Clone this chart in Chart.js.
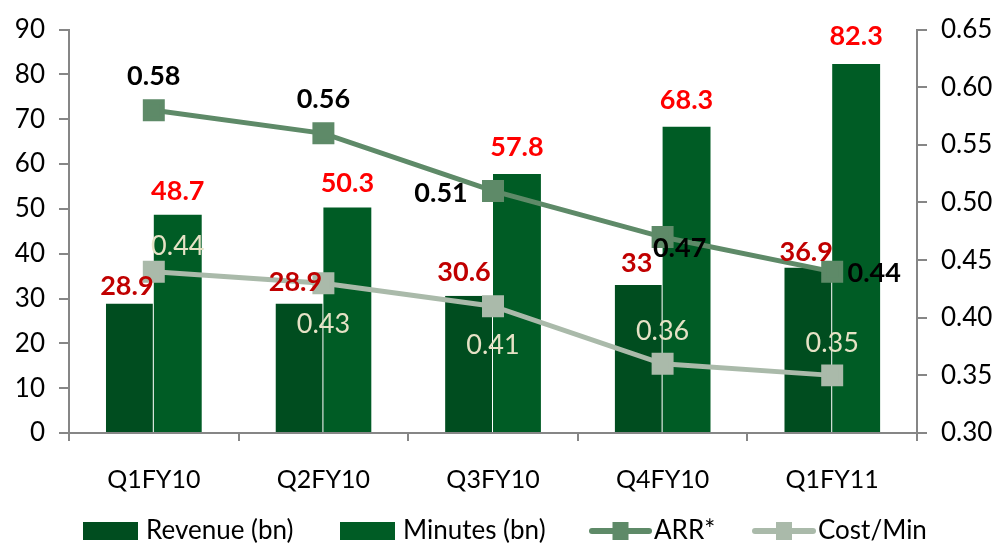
<!DOCTYPE html>
<html><head><meta charset="utf-8">
<script src="https://cdn.jsdelivr.net/npm/chart.js@4.4.0/dist/chart.umd.min.js"></script>
<style>html,body{margin:0;padding:0;background:#fff}#wrap{width:998px;height:543px}</style>
</head><body><div id="wrap"><canvas id="c" width="998" height="543"></canvas></div>
<script>
const categories = ['Q1FY10','Q2FY10','Q3FY10','Q4FY10','Q1FY11'];
const revenue = [28.9, 28.9, 30.6, 33, 36.9];
const minutes = [48.7, 50.3, 57.8, 68.3, 82.3];
const arr = [0.58, 0.56, 0.51, 0.47, 0.44];
const costPerMin = [0.44, 0.43, 0.41, 0.36, 0.35];
const leftTicks = [0,10,20,30,40,50,60,70,80,90];
const rightTicks = [0.30,0.35,0.40,0.45,0.50,0.55,0.60,0.65];

// label placement offsets (dx, dy) relative to the element anchor
const revOff = [[-3,-17],[-4,-21],[-5,-24],[-2,-22],[-2,-15]];
const minOff = [[0,-23],[0,-24],[0,-27],[0,-27],[0,-28]];
const arrOff = [[0,-34],[0,-34],[-52,2],[17,11],[42,2]];
const costOff = [[24,-25],[0,41],[0,39],[0,-33],[0,-32]];

const FONT = 'Lato, "Open Sans", sans-serif';
const C_REV = '#004D1F', C_MIN = '#005C25', C_ARR = '#5E8A68', C_COST = '#AABAAA';

const labelPlugin = {
  id: 'labels',
  afterDatasetsDraw(chart) {
    const ctx = chart.ctx;
    ctx.save();
    ctx.textAlign = 'center';
    ctx.textBaseline = 'middle';
    const specs = [
      {i:0, data: revenue, off: revOff, font: 'bold 27px ' + FONT, color: '#C00000', fmt: v => String(v)},
      {i:1, data: minutes, off: minOff, font: 'bold 27px ' + FONT, color: '#FF0000', fmt: v => String(v)},
      {i:2, data: arr, off: arrOff, font: 'bold 27px ' + FONT, color: '#000000', fmt: v => v.toFixed(2)},
      {i:3, data: costPerMin, off: costOff, font: '27px ' + FONT, color: '#E6E2C6', fmt: v => v.toFixed(2)}
    ];
    specs.forEach(s => {
      const meta = chart.getDatasetMeta(s.i);
      ctx.font = s.font;
      ctx.fillStyle = s.color;
      meta.data.forEach((el, k) => {
        ctx.fillText(s.fmt(s.data[k]), el.x + s.off[k][0], el.y + s.off[k][1]);
      });
    });
    ctx.restore();
  },
  afterDraw(chart) {
    const ctx = chart.ctx;
    ctx.save();
    ctx.font = '26px ' + FONT;
    ctx.fillStyle = '#000';
    ctx.textBaseline = 'middle';
    ctx.textAlign = 'left';
    const y = 531;
    ctx.fillStyle = C_REV; ctx.fillRect(83, 522, 55, 18);
    ctx.fillStyle = '#000'; ctx.fillText('Revenue (bn)', 146, y);
    ctx.fillStyle = C_MIN; ctx.fillRect(340, 522, 55, 18);
    ctx.fillStyle = '#000'; ctx.fillText('Minutes (bn)', 403, y);
    const lineItem = (x0, x1, col, text) => {
      ctx.strokeStyle = col; ctx.lineWidth = 6; ctx.lineCap = 'round';
      ctx.beginPath(); ctx.moveTo(x0, y); ctx.lineTo(x1, y); ctx.stroke();
      ctx.fillStyle = col; ctx.fillRect((x0+x1)/2 - 8, y - 9, 16, 18);
      ctx.fillStyle = '#000'; ctx.fillText(text, x1 + 5, y);
    };
    lineItem(592, 649, C_ARR, 'ARR*');
    lineItem(755, 813, C_COST, 'Cost/Min');
    ctx.restore();
  }
};

new Chart(document.getElementById('c'), {
  type: 'bar',
  data: {
    labels: categories,
    datasets: [
      {label: 'Revenue (bn)', data: revenue, backgroundColor: C_REV, borderColor: 'rgba(255,255,255,0.25)', borderWidth: {right: 1}, yAxisID: 'y', order: 2, barPercentage: 1, categoryPercentage: 0.565},
      {label: 'Minutes (bn)', data: minutes, backgroundColor: C_MIN, borderColor: 'rgba(255,255,255,0.25)', borderWidth: {left: 0}, yAxisID: 'y', order: 2, barPercentage: 1, categoryPercentage: 0.565},
      {type: 'line', label: 'ARR*', data: arr, borderColor: C_ARR, backgroundColor: C_ARR, borderWidth: 5, pointStyle: 'rect', pointRadius: 12, pointHoverRadius: 12, yAxisID: 'y1', order: 1, tension: 0},
      {type: 'line', label: 'Cost/Min', data: costPerMin, borderColor: C_COST, backgroundColor: C_COST, borderWidth: 5, pointStyle: 'rect', pointRadius: 12, pointHoverRadius: 12, yAxisID: 'y1', order: 1, tension: 0}
    ]
  },
  options: {
    responsive: false,
    animation: false,
    events: [],
    layout: {padding: {top: 23, left: 0, right: 0, bottom: 0}},
    plugins: {legend: {display: false}, tooltip: {enabled: false}},
    scales: {
      x: {
        offset: true,
        grid: {offset: true, drawOnChartArea: false, drawTicks: true, tickLength: 8, color: '#868686', lineWidth: 2},
        border: {display: true, color: '#868686', width: 2},
        ticks: {color: '#000', font: {family: FONT, size: 25}, padding: 24},
        afterFit(s) { s.height = 110; }
      },
      y: {
        position: 'left', min: 0, max: 90,
        afterBuildTicks(s) { s.ticks = leftTicks.map(v => ({value: v})); },
        grid: {drawOnChartArea: false, drawTicks: true, tickLength: 10, color: '#868686', lineWidth: 2},
        border: {display: true, color: '#868686', width: 2},
        ticks: {color: '#000', font: {family: FONT, size: 26}, padding: 14},
        afterFit(s) { s.width = 69; }
      },
      y1: {
        position: 'right', min: 0.30, max: 0.65,
        afterBuildTicks(s) { s.ticks = rightTicks.map(v => ({value: v})); },
        grid: {drawOnChartArea: false, drawTicks: true, tickLength: 10, color: '#868686', lineWidth: 2},
        border: {display: true, color: '#868686', width: 2},
        ticks: {color: '#000', font: {family: FONT, size: 26}, padding: 14, callback: v => Number(v).toFixed(2)},
        afterFit(s) { s.width = 81; }
      }
    }
  },
  plugins: [labelPlugin]
});
</script>
</body></html>
